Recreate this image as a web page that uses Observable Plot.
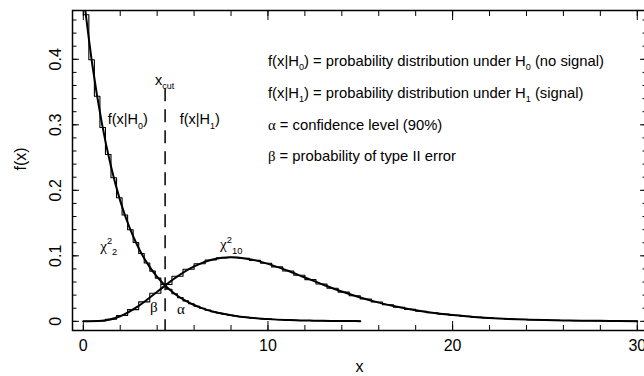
<!DOCTYPE html>
<html><head><meta charset="utf-8">
<script src="https://cdn.jsdelivr.net/npm/d3@7"></script>
<script src="https://cdn.jsdelivr.net/npm/@observablehq/plot@0.6"></script>
<style>body{margin:0;background:#fff}svg{display:block}</style>
</head><body><div id="chart"></div>
<script>
// ---- data ----
const hist0Start = 0, hist0Width = 0.3;   // chi2 (2 dof) histogram, H0
const hist0Values = [0.468,0.3993,0.3437,0.2958,0.2546,0.2191,0.1886,0.1623,0.1397,0.1203,
 0.1035,0.0891,0.0767,0.0660,0.0568,0.0489,0.0421,0.0362,0.0312,0.0268,
 0.0231,0.0199,0.0171,0.0147,0.0127,0.0109,0.0094,0.0081,0.0070,0.0060,
 0.0052,0.0044,0.0038,0.0033,0.0028,0.0024,0.0021,0.0018,0.0016,0.0013,
 0.0012,0.0010,0.0009,0.0007,0.0006,0.0005,0.0005,0.0004,0.0003,0.0003];
const hist1Start = 0, hist1Width = 0.6;   // chi2 (10 dof) histogram, H1
const hist1Values = [0.00001,0.00055,0.0031,0.0089,0.0179,0.0297,0.0429,0.0563,0.0688,0.0795,
 0.0879,0.0937,0.0969,0.0977,0.0963,0.0931,0.0886,0.0831,0.0768,0.0703,
 0.0636,0.0570,0.0506,0.0446,0.0391,0.0340,0.0294,0.0252,0.0216,0.0183,
 0.0155,0.0131,0.0110,0.0092,0.0077,0.0064,0.0053,0.0043,0.0036,0.0029,
 0.0024,0.0020,0.0016,0.0013,0.0011,0.0009,0.0007,0.0006,0.0005,0.0004];
const curve0X = [0,0.5,1,1.5,2,2.5,3,3.5,4,4.5,5,5.5,6,6.5,7,7.5,8,8.5,9,9.5,10,10.5,11,11.5,12,12.5,13,13.5,14,14.5,15];
const curve0Y = [0.5,0.3894,0.3033,0.2362,0.1839,0.1433,0.1116,0.0869,0.0677,0.0527,0.0410,0.0320,0.0249,0.0194,0.0151,0.0118,0.0092,0.0071,0.0056,0.0043,0.0034,0.0026,0.0020,0.0016,0.0012,0.0010,0.0008,0.0006,0.0005,0.0004,0.0003];
const curve1X = [0,1,2,3,4,5,6,7,8,9,10,11,12,13,14,15,16,17,18,19,20,21,22,23,24,25,26,27,28,29,30];
const curve1Y = [0,0.0008,0.0077,0.0235,0.0451,0.0668,0.0840,0.0944,0.0977,0.0949,0.0877,0.0779,0.0669,0.0559,0.0456,0.0365,0.0286,0.0221,0.0169,0.0127,0.0095,0.0070,0.0051,0.0037,0.0027,0.0019,0.0013,0.0009,0.0007,0.0005,0.0003];
const xCut = 4.43;
const xMajorTicks = [0,10,20,30];
const xTickLabels = ["0","10","20","30"];
const xMinorTicks = [0,2,4,6,8,10,12,14,16,18,20,22,24,26,28,30];
const yMajorTicks = [0,0.1,0.2,0.3,0.4];
const yTickLabels = ["0","0.1","0.2","0.3","0.4"];
const yMinorTicks = d3.range(0, 24).map(i => i / 50);
const legendLines = [
  "f(x|H_{0}) = probability distribution under H_{0} (no signal)",
  "f(x|H_{1}) = probability distribution under H_{1} (signal)",
  "α = confidence level (90%)",
  "β = probability of type II error"
];
const xTitle = "x", yTitle = "f(x)";

// ---- build tables ----
function steps(start, width, values) {
  const pts = values.map((v, i) => ({x: start + i * width, y: v}));
  pts.push({x: start + values.length * width, y: values[values.length - 1]});
  return pts;
}
const step0 = steps(hist0Start, hist0Width, hist0Values);
const step1 = steps(hist1Start, hist1Width, hist1Values);
const curve0 = curve0X.map((x, i) => ({x, y: curve0Y[i]}));
const curve1 = curve1X.map((x, i) => ({x, y: curve1Y[i]}));

const sans = "'Liberation Sans', Arial, Helvetica, sans-serif";
const yLo = -0.014, yHi = 0.4745;
const hasAxis = typeof Plot.axisX === "function";

const axisMarks = hasAxis ? [
  Plot.axisX({ticks: xMinorTicks, anchor: "bottom", tickSize: -5, fill: "none", label: null}),
  Plot.axisX({ticks: xMajorTicks, anchor: "bottom", tickSize: -9, fill: "none", label: null}),
  Plot.axisX({ticks: xMinorTicks, anchor: "top", tickSize: -5, fill: "none", label: null}),
  Plot.axisX({ticks: xMajorTicks, anchor: "top", tickSize: -9, fill: "none", label: null}),
  Plot.axisY({ticks: yMinorTicks, anchor: "left", tickSize: -4.5, fill: "none", label: null}),
  Plot.axisY({ticks: yMajorTicks, anchor: "left", tickSize: -7, fill: "none", label: null}),
  Plot.axisY({ticks: yMinorTicks, anchor: "right", tickSize: -4.5, fill: "none", label: null}),
  Plot.axisY({ticks: yMajorTicks, anchor: "right", tickSize: -7, fill: "none", label: null})
] : [];

const plot = Plot.plot({
  width: 644, height: 376,
  marginLeft: 72, marginRight: -2, marginTop: 10, marginBottom: 46,
  style: {fontFamily: sans, fontSize: "15px", background: "white", color: "black"},
  x: {domain: [-0.585, 30.5], ...(hasAxis ? {} : {axis: null})},
  y: {domain: [yLo, yHi], ...(hasAxis ? {} : {axis: null})},
  marks: [
    Plot.line(curve0, {x: "x", y: "y", curve: "monotone-x", strokeWidth: 2, clip: true}),
    Plot.line(curve1, {x: "x", y: "y", curve: "monotone-x", strokeWidth: 2, clip: true}),
    Plot.line(step0, {x: "x", y: "y", curve: "step-after", strokeWidth: 1.1, clip: true}),
    Plot.line(step1, {x: "x", y: "y", curve: "step-after", strokeWidth: 1.1, clip: true}),
    Plot.ruleX([xCut], {y1: 0.355, y2: yLo, strokeDasharray: "13,8", strokeWidth: 1.5}),
    ...axisMarks,
    Plot.frame({strokeWidth: 1.5}),
    // tick labels
    Plot.text(xMajorTicks, {x: d => d, text: (d, i) => xTickLabels[i], frameAnchor: "bottom", lineAnchor: "bottom", dy: 20, fontSize: 16}),
    Plot.text(yMajorTicks, {y: d => d, text: (d, i) => yTickLabels[i], frameAnchor: "left", rotate: -90, textAnchor: "middle", lineAnchor: "bottom", dx: -12, fontSize: 16}),
    Plot.text([xTitle], {frameAnchor: "bottom", lineAnchor: "bottom", dy: 41, fontSize: 16}),
    Plot.text([yTitle], {frameAnchor: "left", rotate: -90, lineAnchor: "bottom", dx: -47, fontSize: 16}),
    // annotations
    Plot.text(["f(x|H_{0})"], {x: 2.41, y: 0.308, fontSize: 14.5}),
    Plot.text(["f(x|H_{1})"], {x: 6.31, y: 0.308, fontSize: 14.5}),
    Plot.text(["x_{cut}"], {x: 4.41, y: 0.368, fontSize: 14.5}),
    Plot.text(["χ^{2}_{2}"], {x: 1.38, y: 0.115, fontSize: 15}),
    Plot.text(["χ^{2}_{10}"], {x: 8.01, y: 0.117, fontSize: 15}),
    Plot.text(["β"], {x: 3.82, y: 0.021, fontSize: 15}),
    Plot.text(["α"], {x: 5.28, y: 0.018, fontSize: 15}),
    Plot.text(legendLines, {x: 10.0, y: (d, i) => 0.397 - i * 0.0485, textAnchor: "start", fontSize: 14.8})
  ]
});
document.getElementById("chart").appendChild(plot);

// ---- sub/superscripts and Greek glyphs ----
function rich(el) {
  const s = el.textContent;
  if (!/[_^]\{|[\u0370-\u03ff]/.test(s)) return;
  const fs = parseFloat(getComputedStyle(el).fontSize) || 15;
  el.textContent = "";
  const re = /([_^])\{([^}]*)\}/g;
  let last = 0, m, shift = 0;
  const parts = [];
  while ((m = re.exec(s))) {
    if (m.index > last) parts.push({t: s.slice(last, m.index), k: 0});
    parts.push({t: m[2], k: m[1] === "_" ? 1 : -1});
    last = re.lastIndex;
  }
  if (last < s.length) parts.push({t: s.slice(last), k: 0});
  for (const p of parts) {
    const off = p.k === 1 ? 0.3 * fs : p.k === -1 ? -0.42 * fs : 0;
    const runs = p.t.split(/([\u0370-\u03ff]+)/).filter(r => r);
    runs.forEach((r, j) => {
      const ts = document.createElementNS("http://www.w3.org/2000/svg", "tspan");
      if (j === 0 && off !== shift) { ts.setAttribute("dy", off - shift); shift = off; }
      if (p.k) ts.setAttribute("font-size", 0.62 * fs);
      if (/[\u0370-\u03ff]/.test(r)) ts.setAttribute("font-family", "'Liberation Serif', 'DejaVu Serif', serif");
      ts.textContent = r;
      el.appendChild(ts);
    });
  }
}
plot.querySelectorAll("text").forEach(rich);
</script>
</body></html>
